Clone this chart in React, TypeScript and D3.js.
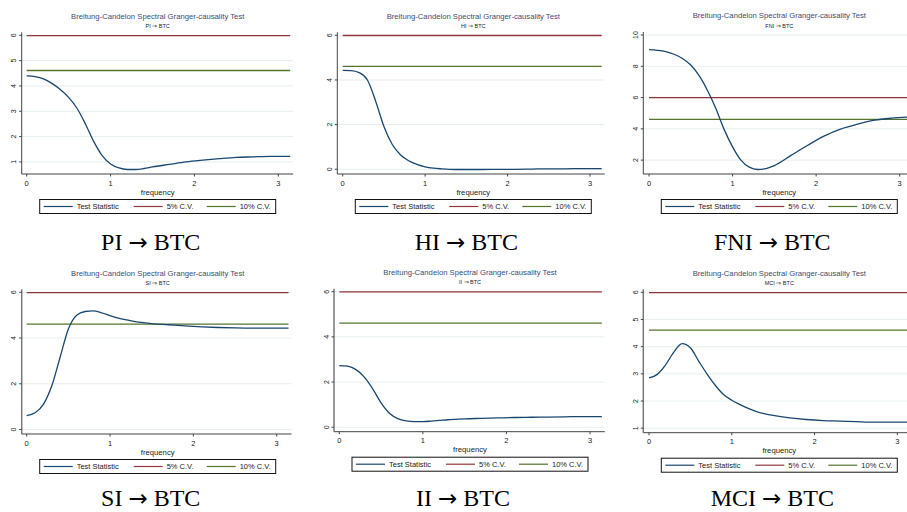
import React from "react";
import * as d3 from "d3";

// frequency grid (0 .. pi)
const FREQ = [0, 0.1, 0.2, 0.3, 0.4, 0.5, 0.6, 0.7, 0.8, 0.9, 1.0, 1.1, 1.2, 1.3, 1.4, 1.5, 1.7, 1.9, 2.1, 2.3, 2.5, 2.7, 2.9, 3.1416];

// test statistic for each cause -> BTC
const PI_STAT = [4.4, 4.37, 4.28, 4.1, 3.86, 3.55, 3.12, 2.5, 1.8, 1.25, 0.92, 0.76, 0.7, 0.7, 0.74, 0.8, 0.9, 1.0, 1.07, 1.13, 1.18, 1.2, 1.22, 1.22];
const HI_STAT = [4.43, 4.42, 4.33, 4.0, 3.05, 1.92, 1.12, 0.65, 0.38, 0.22, 0.11, 0.05, 0.02, 0.0, -0.01, -0.01, -0.01, 0.0, 0.0, 0.01, 0.02, 0.02, 0.03, 0.03];
const FNI_STAT = [9.06, 9.02, 8.94, 8.77, 8.5, 8.08, 7.4, 6.45, 5.3, 3.95, 2.85, 2.0, 1.55, 1.4, 1.45, 1.65, 2.3, 2.95, 3.55, 4.0, 4.3, 4.55, 4.68, 4.76];
const SI_STAT = [0.61, 0.73, 1.1, 1.9, 3.15, 4.4, 5.0, 5.16, 5.19, 5.1, 4.98, 4.87, 4.79, 4.72, 4.67, 4.63, 4.58, 4.53, 4.49, 4.46, 4.44, 4.43, 4.43, 4.43];
const II_STAT = [2.73, 2.7, 2.55, 2.22, 1.7, 1.08, 0.62, 0.38, 0.28, 0.25, 0.25, 0.27, 0.3, 0.33, 0.35, 0.37, 0.39, 0.41, 0.43, 0.44, 0.45, 0.46, 0.47, 0.47];
const MCI_STAT = [2.85, 2.98, 3.33, 3.8, 4.11, 3.96, 3.47, 3.0, 2.58, 2.24, 2.03, 1.87, 1.73, 1.61, 1.53, 1.47, 1.38, 1.32, 1.28, 1.26, 1.24, 1.22, 1.22, 1.22];

// critical values (chi2, 2 df)
const CV5 = 5.99;
const CV10 = 4.61;

const NAMES = ["PI", "HI", "FNI", "SI", "II", "MCI"];
const SERIES = [PI_STAT, HI_STAT, FNI_STAT, SI_STAT, II_STAT, MCI_STAT];
const Y_TICKS = [
  [1, 2, 3, 4, 5, 6],
  [0, 2, 4, 6],
  [2, 4, 6, 8, 10],
  [0, 2, 4, 6],
  [0, 2, 4, 6],
  [1, 2, 3, 4, 5, 6],
];
const X_TICKS = [0, 1, 2, 3];
const LEGEND = ["Test Statistic", "5% C.V.", "10% C.V."];

// panel frames: y-axis line x, pixel of f=0 and f=3, top tick y, x-axis line y
const FRAMES = [
  { axisX: 21.7, x0: 26.7, x3: 278.3, top: 35.3, bottom: 174 },
  { axisX: 337.3, x0: 342.7, x3: 590, top: 35.3, bottom: 174 },
  { axisX: 643.3, x0: 649, x3: 899.7, top: 35, bottom: 174 },
  { axisX: 21.7, x0: 26.7, x3: 276.7, top: 292.3, bottom: 434 },
  { axisX: 334, x0: 339.3, x3: 590, top: 291.7, bottom: 431.7 },
  { axisX: 643.3, x0: 649, x3: 897.3, top: 292.3, bottom: 432.7 },
];

const NAVY = "#1a476f";
const MAROON = "#90353b";
const GREEN = "#55752f";
const SANS = "'Liberation Sans', Arial, sans-serif";

const Panel = ({ i }) => {
  const f = FRAMES[i];
  const stat = SERIES[i];
  const ticks = Y_TICKS[i];

  const x = d3.scaleLinear().domain([0, 3]).range([f.x0, f.x3]);
  const yMin = Math.min(d3.min(stat), d3.min(ticks));
  const yMax = Math.max(d3.max(stat), d3.max(ticks), CV5);
  const y = d3.scaleLinear().domain([yMin, yMax]).range([f.bottom - 4.5, f.top]);

  const xEnd = x(FREQ[FREQ.length - 1]);
  const right = xEnd + 3;
  const mid = f.axisX + 136;

  const line = d3
    .line()
    .x((d, k) => x(FREQ[k]))
    .y((d) => y(d))
    .curve(d3.curveMonotoneX);

  const legX = f.axisX + 18;
  const legY = f.bottom + 25.5;
  const legColors = [NAVY, MAROON, GREEN];
  const legOffsets = [4, 94, 167];

  return (
    <g>
      {/* title */}
      <text x={mid} y={f.top - 16.6} textAnchor="middle" fontFamily={SANS} fontSize={7.7} fill="#3d4c73">
        Breitung-Candelon Spectral Granger-causality Test
      </text>
      <text x={mid} y={f.top - 7.4} textAnchor="middle" fontFamily={SANS} fontSize={5.5} fill="#222">
        {NAMES[i]} ⇒ BTC
      </text>

      {/* grid */}
      {ticks.map((t) => (
        <line key={"g" + t} x1={f.axisX} x2={right} y1={y(t)} y2={y(t)} stroke="#e6eef0" strokeWidth={1} />
      ))}

      {/* critical values */}
      <line x1={x(0)} x2={xEnd} y1={y(CV5)} y2={y(CV5)} stroke={MAROON} strokeWidth={1.3} />
      <line x1={x(0)} x2={xEnd} y1={y(CV10)} y2={y(CV10)} stroke={GREEN} strokeWidth={1.3} />

      {/* statistic */}
      <path d={line(stat)} fill="none" stroke={NAVY} strokeWidth={1.3} />

      {/* y axis */}
      <line
        x1={f.axisX}
        x2={f.axisX}
        y1={f.top - 3}
        y2={f.bottom}
        stroke={i < 3 ? "#444" : "#777"}
        strokeWidth={i < 3 ? 1 : 1.5}
      />
      {ticks.map((t) => (
        <g key={"y" + t}>
          <line x1={f.axisX - 2.5} x2={f.axisX} y1={y(t)} y2={y(t)} stroke="#444" />
          <text
            transform={`translate(${f.axisX - 5.5},${y(t)}) rotate(-90)`}
            textAnchor="middle"
            fontFamily={SANS}
            fontSize={7}
            fill="#222"
          >
            {t}
          </text>
        </g>
      ))}

      {/* x axis */}
      <line x1={f.axisX} x2={right} y1={f.bottom} y2={f.bottom} stroke="#444" strokeWidth={1} />
      {X_TICKS.map((t) => (
        <g key={"x" + t}>
          <line x1={x(t)} x2={x(t)} y1={f.bottom} y2={f.bottom + 2.5} stroke="#444" />
          <text x={x(t)} y={f.bottom + 11.5} textAnchor="middle" fontFamily={SANS} fontSize={7.5} fill="#222">
            {t}
          </text>
        </g>
      ))}
      <text x={mid} y={f.bottom + 20.5} textAnchor="middle" fontFamily={SANS} fontSize={7.7} fill="#222">
        frequency
      </text>

      {/* legend */}
      <rect x={legX} y={legY} width={236} height={14} fill="#fff" stroke="#111" strokeWidth={1} />
      {LEGEND.map((lab, k) => (
        <g key={lab}>
          <line
            x1={legX + legOffsets[k]}
            x2={legX + legOffsets[k] + 29}
            y1={legY + 7}
            y2={legY + 7}
            stroke={legColors[k]}
            strokeWidth={1.2}
          />
          <text x={legX + legOffsets[k] + 33} y={legY + 9.7} fontFamily={SANS} fontSize={7.5} fill="#222">
            {lab}
          </text>
        </g>
      ))}

      {/* caption */}
      <text
        x={f.axisX + 129}
        y={Math.min(f.bottom + 75.5, 506)}
        textAnchor="middle"
        fontFamily="'Liberation Serif', 'Times New Roman', serif"
        fontSize={24}
        fill="#000"
      >
        {NAMES[i]}{" "}
        <tspan fontFamily="'DejaVu Sans', sans-serif" fontSize={23}>
          →
        </tspan>{" "}
        BTC
      </text>
    </g>
  );
};

export default function App() {
  return (
    <svg
      width={907}
      height={512}
      style={{ position: "absolute", left: 0, top: 0, background: "#fff" }}
    >
      {NAMES.map((n, i) => (
        <Panel key={n} i={i} />
      ))}
    </svg>
  );
}
